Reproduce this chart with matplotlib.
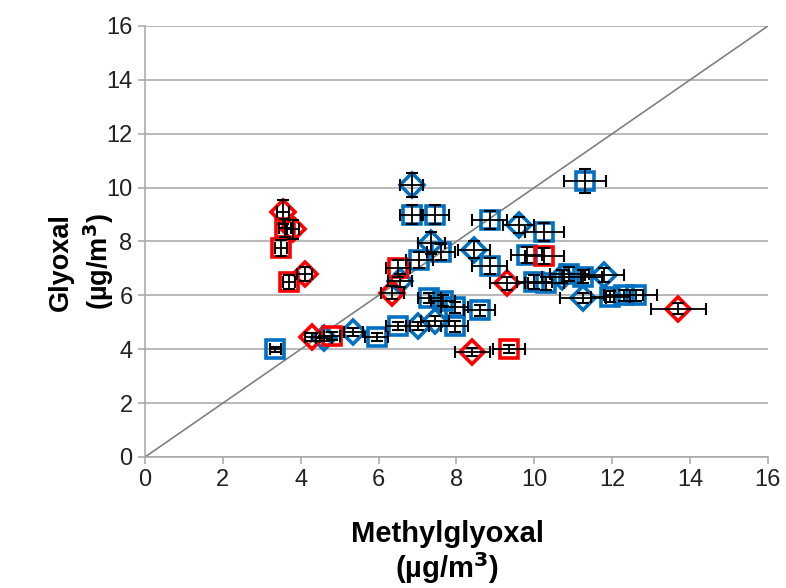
import matplotlib
matplotlib.use("Agg")
import matplotlib.pyplot as plt

plt.rcParams['font.family'] = ['Liberation Sans', 'DejaVu Sans']

BLUE = "#0070C0"
RED = "#FF0000"

# blue squares: methylglyoxal, glyoxal, x error, y error
bs_x = [3.35, 5.95, 6.5, 6.85, 7.45, 7.05, 7.6, 7.3, 7.65, 7.95, 7.95, 8.6,
        8.85, 8.85, 9.8, 10.25, 10.0, 10.3, 10.9, 11.3, 11.95, 12.3, 12.6, 11.25]
bs_y = [4.0, 4.45, 4.85, 9.0, 9.0, 7.3, 7.6, 5.9, 5.8, 5.55, 4.85, 5.45,
        8.8, 7.1, 7.5, 8.35, 6.5, 6.45, 6.8, 10.25, 5.95, 6.0, 6.0, 6.7]
bs_xe = [0.15, 0.3, 0.3, 0.3, 0.35, 0.35, 0.35, 0.3, 0.3, 0.35, 0.35, 0.4,
         0.45, 0.45, 0.4, 0.5, 0.45, 0.45, 0.5, 0.55, 0.5, 0.5, 0.55, 0.5]
bs_ye = [0.1, 0.15, 0.15, 0.35, 0.35, 0.3, 0.3, 0.2, 0.2, 0.2, 0.2, 0.2,
         0.35, 0.3, 0.3, 0.35, 0.25, 0.25, 0.25, 0.45, 0.2, 0.2, 0.2, 0.25]

# blue diamonds
bd_x = [4.6, 5.35, 6.55, 6.85, 7.0, 7.45, 7.35, 8.45, 9.6, 11.25, 11.8, 10.7]
bd_y = [4.4, 4.65, 6.55, 10.1, 4.85, 5.05, 7.95, 7.7, 8.6, 5.9, 6.75, 6.7]
bd_xe = [0.2, 0.25, 0.3, 0.3, 0.3, 0.35, 0.35, 0.4, 0.4, 0.6, 0.5, 0.5]
bd_ye = [0.1, 0.15, 0.25, 0.45, 0.15, 0.2, 0.4, 0.3, 0.3, 0.2, 0.25, 0.25]

# red diamonds
rd_x = [3.55, 3.8, 4.1, 4.3, 6.35, 9.3, 8.4, 13.7]
rd_y = [9.1, 8.45, 6.8, 4.45, 6.1, 6.45, 3.9, 5.5]
rd_xe = [0.15, 0.15, 0.2, 0.2, 0.3, 0.45, 0.45, 0.7]
rd_ye = [0.45, 0.35, 0.25, 0.15, 0.25, 0.25, 0.15, 0.2]

# red squares
rs_x = [3.5, 3.6, 3.7, 4.8, 6.5, 10.25, 9.35]
rs_y = [7.75, 8.5, 6.5, 4.5, 7.0, 7.45, 4.0]
rs_xe = [0.15, 0.15, 0.15, 0.2, 0.3, 0.5, 0.4]
rs_ye = [0.3, 0.35, 0.25, 0.15, 0.3, 0.3, 0.15]

fig = plt.figure(figsize=(7.86, 5.88), dpi=100)
ax = fig.add_axes([0.1845, 0.2228, 0.7925, 0.733])

ax.plot([0, 16], [0, 16], color="#808080", lw=1.2, zorder=2)

groups = [
    (bs_x, bs_y, bs_xe, bs_ye, "s", BLUE, 13.5),
    (bd_x, bd_y, bd_xe, bd_ye, "D", BLUE, 12),
    (rs_x, rs_y, rs_xe, rs_ye, "s", RED, 13.5),
    (rd_x, rd_y, rd_xe, rd_ye, "D", RED, 12),
]
for x, y, xe, ye, m, c, ms in groups:
    ax.plot(x, y, ls="none", marker=m, ms=ms, mfc="none", mec=c, mew=2.6, zorder=3)
    ax.errorbar(x, y, xerr=xe, yerr=ye, fmt="none", ecolor="black",
                elinewidth=1.3, capsize=4, capthick=1.5, zorder=4)

ax.set_xlim(0, 16)
ax.set_ylim(0, 16)
ax.set_xticks(range(0, 17, 2))
ax.set_yticks(range(0, 17, 2))
ax.grid(axis="y", color="#A6A6A6", lw=1.1)
ax.set_axisbelow(True)
for s in ["top", "right"]:
    ax.spines[s].set_visible(False)
for s in ["left", "bottom"]:
    ax.spines[s].set_color("#A6A6A6")
    ax.spines[s].set_linewidth(1.1)
ax.tick_params(axis="both", colors="#A6A6A6", length=5, width=1.1,
               labelsize=17, labelcolor="#222222", pad=4)

fig.text(0.569, 0.092, "Methylglyoxal", ha="center", va="center",
         fontsize=21, fontweight="bold")
fig.text(0.569, 0.034, "(µg/m$^\\mathbf{3}$)", ha="center", va="center",
         fontsize=21, fontweight="bold")
fig.text(0.077, 0.555, "Glyoxal", ha="center", va="center", rotation=90,
         fontsize=19.5, fontweight="bold")
fig.text(0.125, 0.555, "(µg/m$^\\mathbf{3}$)", ha="center", va="center",
         rotation=90, fontsize=19.5, fontweight="bold")

fig.savefig("out.png", dpi=100)
